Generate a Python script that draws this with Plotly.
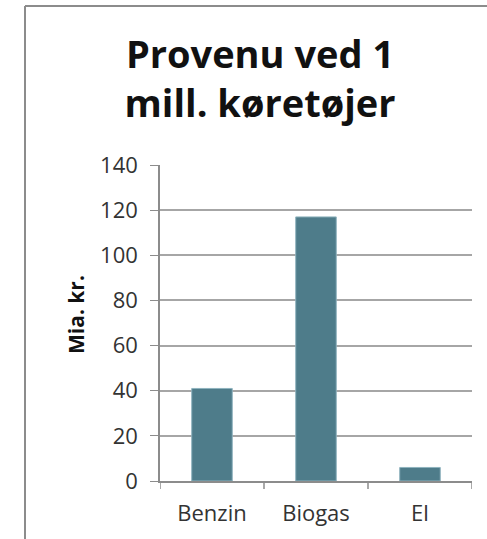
import plotly.graph_objects as go

categories = ["Benzin", "Biogas", "El"]
values = [41, 117, 6]
tick_vals = [0, 20, 40, 60, 80, 100, 120, 140]

bar_color = "#4E7C8A"
font_family = "'Open Sans', Lato, sans-serif"

W, H = 487, 539
L, R, T, B = 160, 15, 165, 58
PW, PH = W - L - R, H - T - B

fig = go.Figure(
    go.Bar(
        x=categories,
        y=values,
        marker=dict(color=bar_color, line=dict(color="#8FB3BE", width=1)),
        width=0.39,
    )
)

fig.update_layout(
    width=W,
    height=H,
    margin=dict(l=L, r=R, t=T, b=B),
    paper_bgcolor="white",
    plot_bgcolor="white",
    showlegend=False,
    font=dict(family=font_family, color="#222222"),
    title=dict(
        text="<b>Provenu ved 1<br>mill. køretøjer</b>",
        x=260 / W,
        xref="container",
        xanchor="center",
        y=1 - 68 / H,
        yref="container",
        yanchor="top",
        font=dict(size=38, color="#111111", family=font_family),
    ),
    xaxis=dict(
        showgrid=False,
        showline=True,
        linecolor="#8C8C8C",
        linewidth=1.5,
        ticks="outside",
        ticklen=0,
        ticklabelstandoff=12,
        tickfont=dict(size=22, color="#333333"),
        range=[-0.5, 2.5],
    ),
    yaxis=dict(
        range=[0, 140],
        tickvals=tick_vals,
        showgrid=True,
        gridcolor="#A6A6A6",
        gridwidth=1.5,
        showline=True,
        linecolor="#8C8C8C",
        linewidth=1.5,
        ticks="outside",
        ticklen=8,
        tickcolor="#8C8C8C",
        ticklabelstandoff=8,
        tickfont=dict(size=22, color="#333333"),
        zeroline=False,
    ),
    annotations=[
        dict(text="<b>Mia. kr.</b>", textangle=-90, showarrow=False,
             xref="paper", yref="paper",
             x=(76 - L) / PW, y=(481 - 315) / PH,
             xanchor="center", yanchor="middle",
             font=dict(size=21, color="#111111", family=font_family)),
    ],
    shapes=[
        # chart border (top and left visible)
        dict(type="line", xref="paper", yref="paper",
             x0=(25 - L) / PW, x1=1.2, y0=(H - 6 - B) / PH, y1=(H - 6 - B) / PH,
             line=dict(color="#8C8C8C", width=2)),
        dict(type="line", xref="paper", yref="paper",
             x0=(25 - L) / PW, x1=(25 - L) / PW, y0=(H - 6 - B) / PH, y1=-0.3,
             line=dict(color="#8C8C8C", width=2)),
    ],
)

# category separator ticks below the x axis
for xb in [-0.5, 0.5, 1.5, 2.5]:
    fig.add_shape(type="line", xref="x", yref="paper", x0=xb, x1=xb,
                  y0=0, y1=-8 / PH, line=dict(color="#8C8C8C", width=1.5))

fig.write_html("out.html", config={"displayModeBar": False},
               post_script="document.body.style.margin='0';")
